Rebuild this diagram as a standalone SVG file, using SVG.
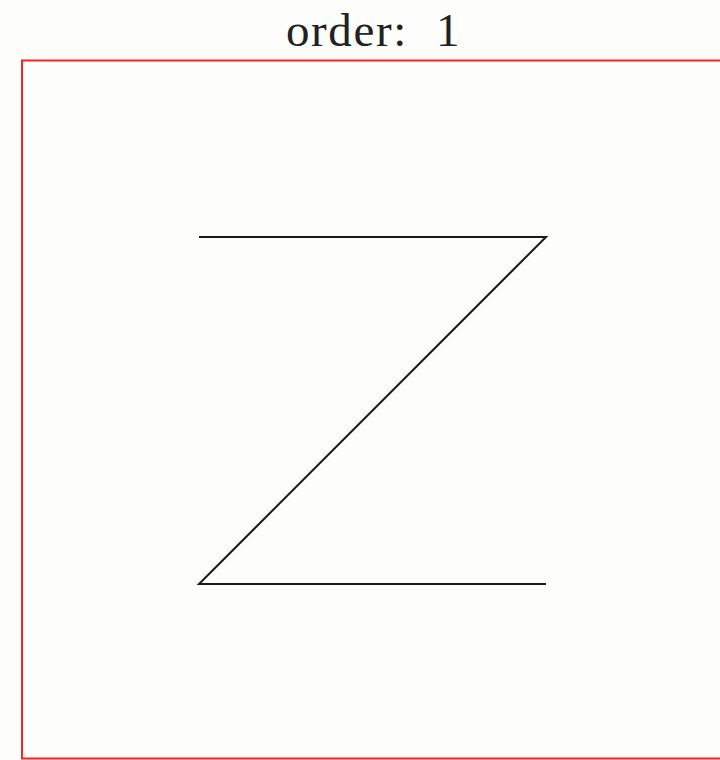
<svg xmlns="http://www.w3.org/2000/svg" width="720" height="760" viewBox="0 0 720 760">
<style>
.title{font-family:"Liberation Serif","DejaVu Serif",serif;font-size:47px;letter-spacing:1.6px;fill:#222}
.frame{fill:none;stroke:#ff2020;stroke-width:2}
.curve{fill:none;stroke:#1a1a1a;stroke-width:2;stroke-linejoin:miter}
</style>
<rect width="720" height="760" fill="#fdfdfc"/>
<g id="title"><text class="title" x="286" y="46">order: <tspan x="436">1</tspan></text></g>
<g id="frame"><rect class="frame" x="22" y="60.5" width="720" height="698"/></g>
<g id="connectors"><polyline class="curve" points="199,237 546,237 199,584 546,584"/></g>
</svg>
